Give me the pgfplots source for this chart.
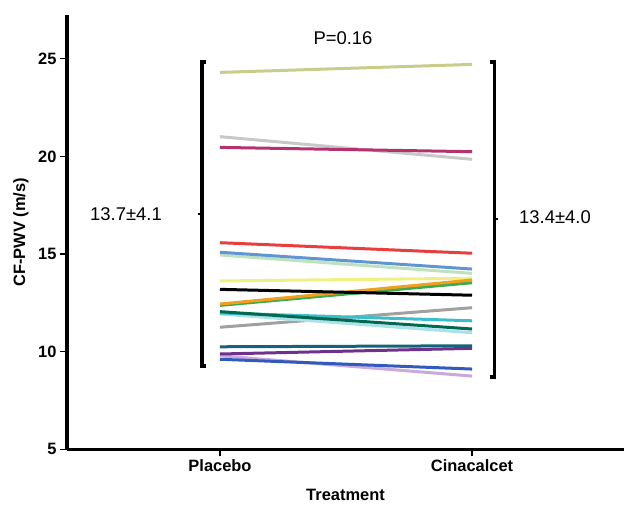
\documentclass[border=0pt]{standalone}
\usepackage{fontspec}
\setmainfont{Liberation Sans}
\usepackage{pgfplots}
\pgfplotsset{compat=1.18}

% line colours
\definecolor{cKhaki}{RGB}{200,205,140}
\definecolor{cGrayA}{RGB}{200,200,200}
\definecolor{cMagenta}{RGB}{180,50,110}
\definecolor{cRed}{RGB}{232,62,62}
\definecolor{cBlue}{RGB}{95,150,210}
\definecolor{cLtGreen}{RGB}{190,225,190}
\definecolor{cYellow}{RGB}{240,240,130}
\definecolor{cOrange}{RGB}{240,160,30}
\definecolor{cGreen}{RGB}{60,170,80}
\definecolor{cDkGreen}{RGB}{0,105,80}
\definecolor{cCyan}{RGB}{60,190,200}
\definecolor{cLtCyan}{RGB}{170,225,235}
\definecolor{cGrayB}{RGB}{160,160,160}
\definecolor{cDkTeal}{RGB}{20,100,120}
\definecolor{cPurple}{RGB}{110,50,140}
\definecolor{cLavender}{RGB}{200,170,220}
\definecolor{cBlueB}{RGB}{50,90,190}

\begin{document}
\begin{tikzpicture}
\path[use as bounding box] (-67bp,-55.7bp) rectangle (557bp,449.3bp);
\begin{axis}[
  at={(0,0)}, anchor=south west,
  scale only axis, width=557bp, height=434.3bp,
  xmin=-0.607, xmax=1.603,
  ymin=5, ymax=27.24,
  axis lines=left,
  axis line style={-, line width=3bp},
  xtick={0,1}, xticklabels={Placebo,Cinacalcet},
  ytick={5,10,15,20,25},
  tick align=outside, major tick length=7bp,
  tick style={line width=1.2bp, black},
  /pgf/number format/assume math mode=true,
  tick label style={font=\fontsize{16.5}{19}\selectfont\bfseries},
  xlabel={Treatment}, ylabel={CF-PWV (m/s)},
  every axis x label/.style={at={(axis description cs:0.5,-0.105)}, anchor=center,
    font=\fontsize{16.5}{19}\selectfont\bfseries},
  every axis y label/.style={at={(axis description cs:-0.0826,0.5)}, rotate=90, anchor=center,
    font=\fontsize{16.5}{19}\selectfont\bfseries},
  clip=false,
  every axis plot/.append style={no markers, line width=3bp},
]
% individual patients: Placebo -> Cinacalcet
\addplot[cKhaki]    coordinates {(0,24.30) (1,24.71)};
\addplot[cGrayA]    coordinates {(0,21.01) (1,19.85)};
\addplot[cMagenta]  coordinates {(0,20.46) (1,20.24)};
\addplot[cLtGreen]  coordinates {(0,14.95) (1,14.01)};
\addplot[cBlue]     coordinates {(0,15.09) (1,14.23)};
\addplot[cRed]      coordinates {(0,15.58) (1,15.04)};
\addplot[cYellow]   coordinates {(0,13.62) (1,13.76)};
\addplot[cGreen]    coordinates {(0,12.37) (1,13.53)};
\addplot[cOrange]   coordinates {(0,12.44) (1,13.67)};
\addplot[black]     coordinates {(0,13.19) (1,12.89)};
\addplot[cGrayB]    coordinates {(0,11.25) (1,12.25)};
\addplot[cLtCyan]   coordinates {(0,11.93) (1,10.97)};
\addplot[cCyan]     coordinates {(0,11.98) (1,11.58)};
\addplot[cDkGreen]  coordinates {(0,12.05) (1,11.16)};
\addplot[cDkTeal]   coordinates {(0,10.25) (1,10.30)};
\addplot[cLavender] coordinates {(0,9.79) (1,8.75)};
\addplot[cPurple]   coordinates {(0,9.88) (1,10.17)};
\addplot[cBlueB]    coordinates {(0,9.61) (1,9.11)};

% brackets
\addplot[black, line width=3.4bp] coordinates {(-0.055,24.84) (-0.0714,24.84) (-0.0714,9.27) (-0.055,9.27)};
\addplot[black, line width=2.2bp] coordinates {(-0.0714,17.04) (-0.088,17.04)};
\addplot[black, line width=3.4bp] coordinates {(1.072,24.84) (1.0885,24.84) (1.0885,8.70) (1.072,8.70)};
\addplot[black, line width=2.2bp] coordinates {(1.0885,16.78) (1.105,16.78)};

\node[font=\fontsize{18.5}{21}\selectfont] at (axis cs:-0.373,17.05) {13.7±4.1};
\node[font=\fontsize{18.5}{21}\selectfont] at (axis cs:1.329,16.9) {13.4±4.0};
\node[font=\fontsize{18.5}{21}\selectfont] at (axis cs:0.488,26.06) {P=0.16};
\end{axis}
\end{tikzpicture}
\end{document}
